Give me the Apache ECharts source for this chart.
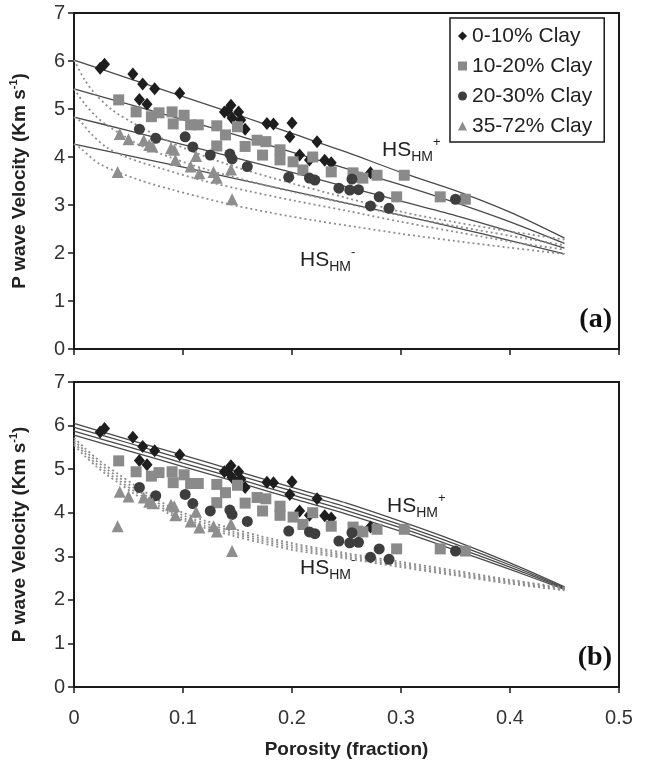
<!DOCTYPE html>
<html>
<head>
<meta charset="utf-8">
<script src="https://cdn.jsdelivr.net/npm/echarts@6/dist/echarts.min.js"></script>
<style>
  html, body { margin: 0; padding: 0; background: #fff; }
  #main { width: 650px; height: 769px; }
</style>
</head>
<body>
<div id="main"></div>
<script>
// clay groups, legend order
var groupNames = ['0-10% Clay', '10-20% Clay', '20-30% Clay', '35-72% Clay'];

// measured points [porosity, Vp]
var clay0to10 = [[0.024,5.85],[0.028,5.93],[0.054,5.73],[0.063,5.52],[0.074,5.42],[0.060,5.20],[0.067,5.10],
  [0.097,5.33],[0.138,4.94],[0.141,4.97],[0.144,5.08],[0.151,4.94],[0.145,4.81],[0.153,4.77],[0.157,4.58],
  [0.177,4.70],[0.183,4.69],[0.200,4.71],[0.198,4.42],[0.223,4.32],[0.207,4.04],[0.216,3.94],[0.230,3.93],
  [0.236,3.88],[0.272,3.67]];
var clay10to20 = [[0.041,5.19],[0.057,4.94],[0.071,4.84],[0.078,4.92],[0.090,4.94],[0.091,4.69],[0.101,4.87],
  [0.107,4.67],[0.114,4.67],[0.131,4.65],[0.139,4.46],[0.131,4.23],[0.150,4.63],[0.157,4.22],[0.168,4.35],
  [0.176,4.32],[0.173,4.04],[0.189,4.15],[0.189,3.94],[0.201,3.90],[0.210,3.73],[0.219,4.00],[0.236,3.69],
  [0.256,3.67],[0.260,3.58],[0.265,3.56],[0.278,3.62],[0.296,3.17],[0.303,3.62],[0.336,3.17],[0.359,3.12]];
var clay20to30 = [[0.060,4.58],[0.075,4.39],[0.102,4.42],[0.109,4.21],[0.125,4.04],[0.143,4.06],[0.145,3.96],
  [0.159,3.80],[0.197,3.58],[0.216,3.56],[0.221,3.52],[0.243,3.35],[0.253,3.31],[0.261,3.32],[0.255,3.54],
  [0.272,2.98],[0.280,3.17],[0.289,2.93],[0.350,3.12]];
var clay35to72 = [[0.042,4.48],[0.050,4.37],[0.064,4.35],[0.069,4.25],[0.072,4.22],[0.040,3.69],[0.089,4.18],
  [0.092,4.15],[0.093,3.94],[0.107,3.80],[0.112,4.02],[0.115,3.66],[0.128,3.69],[0.131,3.57],[0.144,3.74],
  [0.145,3.12]];

// (a) upper bounds HS+ (solid)
var upperA1 = [[0,6.02],[0.05,5.64],[0.1,5.26],[0.15,4.88],[0.2,4.49],[0.25,4.1],[0.3,3.68],[0.35,3.3],[0.4,2.85],[0.45,2.31]];
var upperA2 = [[0,5.42],[0.05,5.1],[0.1,4.78],[0.15,4.45],[0.2,4.1],[0.25,3.76],[0.3,3.42],[0.35,3.05],[0.4,2.65],[0.45,2.2]];
var upperA3 = [[0,4.83],[0.05,4.55],[0.1,4.26],[0.15,3.97],[0.2,3.68],[0.25,3.38],[0.3,3.08],[0.35,2.78],[0.4,2.45],[0.45,2.1]];
var upperA4 = [[0,4.27],[0.05,4.03],[0.1,3.79],[0.15,3.54],[0.2,3.29],[0.25,3.04],[0.3,2.79],[0.35,2.53],[0.4,2.26],[0.45,1.98]];
// (a) lower bounds HS- (dotted)
var lowerA1 = [[0,6.02],[0.01,5.6],[0.02,5.3],[0.035,4.98],[0.055,4.7],[0.08,4.4],[0.11,4.1],[0.15,3.78],[0.2,3.45],[0.25,3.15],[0.3,2.86],[0.35,2.64],[0.4,2.45],[0.45,2.28]];
var lowerA2 = [[0,5.42],[0.01,5.1],[0.02,4.85],[0.031,4.65],[0.045,4.45],[0.06,4.25],[0.09,3.98],[0.12,3.75],[0.16,3.5],[0.2,3.28],[0.25,3.03],[0.3,2.78],[0.35,2.56],[0.4,2.36],[0.45,2.16]];
var lowerA3 = [[0,4.83],[0.006,4.74],[0.015,4.5],[0.03,4.2],[0.05,3.98],[0.08,3.76],[0.12,3.5],[0.16,3.29],[0.2,3.1],[0.25,2.88],[0.3,2.65],[0.35,2.44],[0.4,2.24],[0.45,2.07]];
var lowerA4 = [[0,4.27],[0.006,4.18],[0.024,3.85],[0.06,3.52],[0.09,3.32],[0.14,3.03],[0.18,2.84],[0.22,2.68],[0.26,2.54],[0.3,2.4],[0.35,2.25],[0.4,2.11],[0.45,1.98]];

// (b) upper bounds HS+ (solid)
var upperB1 = [[0,6.05],[0.05,5.68],[0.1,5.32],[0.15,4.95],[0.2,4.58],[0.25,4.22],[0.3,3.8],[0.35,3.35],[0.4,2.85],[0.45,2.3]];
var upperB2 = [[0,5.96],[0.05,5.6],[0.1,5.23],[0.15,4.86],[0.2,4.5],[0.25,4.13],[0.3,3.72],[0.35,3.28],[0.4,2.8],[0.45,2.28]];
var upperB3 = [[0,5.87],[0.05,5.51],[0.1,5.14],[0.15,4.78],[0.2,4.41],[0.25,4.05],[0.3,3.65],[0.35,3.21],[0.4,2.75],[0.45,2.26]];
var upperB4 = [[0,5.78],[0.05,5.42],[0.1,5.06],[0.15,4.7],[0.2,4.33],[0.25,3.97],[0.3,3.57],[0.35,3.14],[0.4,2.7],[0.45,2.24]];
// (b) lower bounds HS- (dotted)
var lowerB1 = [[0,5.72],[0.01,5.48],[0.02,5.26],[0.03,5.07],[0.04,4.9],[0.055,4.64],[0.07,4.4],[0.086,4.16],[0.1,4.0],[0.12,3.82],[0.146,3.63],[0.17,3.47],[0.2,3.3],[0.25,3.07],[0.3,2.87],[0.35,2.67],[0.4,2.46],[0.45,2.28]];
var lowerB2 = [[0,5.66],[0.01,5.42],[0.02,5.2],[0.03,5.0],[0.04,4.83],[0.055,4.57],[0.07,4.33],[0.086,4.1],[0.1,3.94],[0.12,3.76],[0.146,3.57],[0.17,3.42],[0.2,3.25],[0.25,3.03],[0.3,2.83],[0.35,2.63],[0.4,2.43],[0.45,2.26]];
var lowerB3 = [[0,5.6],[0.01,5.36],[0.02,5.13],[0.03,4.93],[0.04,4.76],[0.055,4.5],[0.07,4.27],[0.086,4.04],[0.1,3.88],[0.12,3.7],[0.146,3.52],[0.17,3.37],[0.2,3.2],[0.25,2.99],[0.3,2.79],[0.35,2.59],[0.4,2.4],[0.45,2.24]];
var lowerB4 = [[0,5.55],[0.01,5.3],[0.02,5.07],[0.03,4.87],[0.04,4.7],[0.055,4.44],[0.07,4.21],[0.086,3.99],[0.1,3.83],[0.12,3.65],[0.146,3.47],[0.17,3.32],[0.2,3.15],[0.25,2.95],[0.3,2.75],[0.35,2.56],[0.4,2.37],[0.45,2.22]];

var chart = echarts.init(document.getElementById('main'));

var groupData = [clay0to10, clay10to20, clay20to30, clay35to72];
var groupSymbols = ['diamond', 'rect', 'circle', 'triangle'];
var groupSizes = [[11, 13], 11, 11, 12];
var groupColors = ['#1e1e1e', '#8a8a8a', '#3e3e3e', '#8e8e8e'];

function scatterSeries(idx) {
  var list = [];
  for (var i = 0; i < 4; i++) {
    list.push({
      name: groupNames[i],
      type: 'scatter',
      xAxisIndex: idx, yAxisIndex: idx,
      data: groupData[i],
      symbol: groupSymbols[i],
      symbolSize: groupSizes[i],
      itemStyle: { color: groupColors[i], opacity: 1 },
      z: 5
    });
  }
  return list;
}

function curve(idx, data, dotted) {
  return {
    type: 'line',
    xAxisIndex: idx, yAxisIndex: idx,
    data: data,
    symbol: 'none',
    smooth: 0.3,
    silent: true,
    lineStyle: dotted ? { color: '#8f8f8f', width: 1.8, type: [2, 3] } : { color: '#4a4a4a', width: 1.3 },
    z: 3
  };
}

var axisFont = 'Liberation Sans, Arial, sans-serif';

function xAxisOf(idx, withLabels) {
  return {
    type: 'value', gridIndex: idx, min: 0, max: 0.5, interval: 0.1,
    axisLine: { show: true, onZero: false, lineStyle: { color: '#1a1a1a', width: 2 } },
    axisTick: { show: true, inside: false, length: 6, lineStyle: { color: '#1a1a1a', width: 1.5 } },
    splitLine: { show: false },
    axisLabel: { show: withLabels, color: '#333', fontSize: 20, fontFamily: axisFont, margin: 21 },
    name: withLabels ? 'Porosity (fraction)' : '',
    nameLocation: 'middle', nameGap: 53,
    nameTextStyle: { color: '#222', fontSize: 19, fontWeight: 'bold', fontFamily: axisFont }
  };
}

function yAxisOf(idx) {
  return {
    type: 'value', gridIndex: idx, min: 0, max: 7, interval: 1,
    axisLine: { show: true, onZero: false, lineStyle: { color: '#1a1a1a', width: 2 } },
    axisTick: { show: true, inside: false, length: 6, lineStyle: { color: '#1a1a1a', width: 1.5 } },
    splitLine: { show: false },
    axisLabel: { color: '#333', fontSize: 20, fontFamily: axisFont, margin: 9 },
    name: '{t|P wave Velocity (Km s}{u|-1}{t|)}',
    nameLocation: 'middle', nameRotate: 90, nameGap: 42,
    nameTextStyle: {
      color: '#222', fontFamily: axisFont,
      rich: {
        t: { fontSize: 19, fontWeight: 'bold', color: '#222', fontFamily: axisFont, lineHeight: 24 },
        u: { fontSize: 11, fontWeight: 'bold', color: '#222', fontFamily: axisFont, verticalAlign: 'top', lineHeight: 12 }
      }
    }
  };
}

function hsLabel(left, top, sign) {
  return {
    type: 'text', left: left, top: top, z: 100,
    style: {
      text: '{m|HS}{s|HM}{p|' + sign + '}',
      rich: {
        m: { fontSize: 21, fontFamily: axisFont, fill: '#222', lineHeight: 28 },
        s: { fontSize: 14, fontFamily: axisFont, fill: '#222', verticalAlign: 'bottom', lineHeight: 14 },
        p: { fontSize: 13, fontFamily: axisFont, fill: '#222', verticalAlign: 'top', lineHeight: 12 }
      }
    }
  };
}

function panelTag(top, txt) {
  return {
    type: 'text', right: 38, top: top, z: 100,
    style: { text: txt, font: 'bold 28px "Liberation Serif", "Times New Roman", serif', fill: '#111' }
  };
}

var series = [];
series = series.concat(scatterSeries(0), scatterSeries(1));
[upperA1, upperA2, upperA3, upperA4].forEach(function (d) { series.push(curve(0, d, false)); });
[lowerA1, lowerA2, lowerA3, lowerA4].forEach(function (d) { series.push(curve(0, d, true)); });
[upperB1, upperB2, upperB3, upperB4].forEach(function (d) { series.push(curve(1, d, false)); });
[lowerB1, lowerB2, lowerB3, lowerB4].forEach(function (d) { series.push(curve(1, d, true)); });

var option = {
  animation: false,
  backgroundColor: '#fff',
  grid: [
    { left: 74, top: 13, width: 545, height: 336, show: true, borderColor: '#1a1a1a', borderWidth: 2, backgroundColor: 'transparent', outerBoundsMode: 'none' },
    { left: 74, top: 382, width: 545, height: 305, show: true, borderColor: '#1a1a1a', borderWidth: 2, backgroundColor: 'transparent', outerBoundsMode: 'none' }
  ],
  xAxis: [xAxisOf(0, false), xAxisOf(1, true)],
  yAxis: [yAxisOf(0), yAxisOf(1)],
  legend: {
    orient: 'vertical', left: 450, top: 18,
    padding: [7, 12, 5, 8],
    itemGap: 8, itemWidth: 9, itemHeight: 9, itemStyle: { borderWidth: 0 },
    borderColor: '#1a1a1a', borderWidth: 1.5, backgroundColor: '#fff',
    textStyle: { fontSize: 21, fontFamily: axisFont, color: '#222', lineHeight: 22 },
    data: groupNames.map(function (n, i) { return { name: n, icon: groupSymbols[i] }; }),
    selectedMode: false
  },
  graphic: [
    hsLabel(382, 136, '+'),
    hsLabel(300, 246, '-'),
    hsLabel(387, 492, '+'),
    hsLabel(300, 554, '-'),
    panelTag(306, '(a)'),
    panelTag(644, '(b)')
  ],
  series: series
};

chart.setOption(option);
</script>
</body>
</html>
